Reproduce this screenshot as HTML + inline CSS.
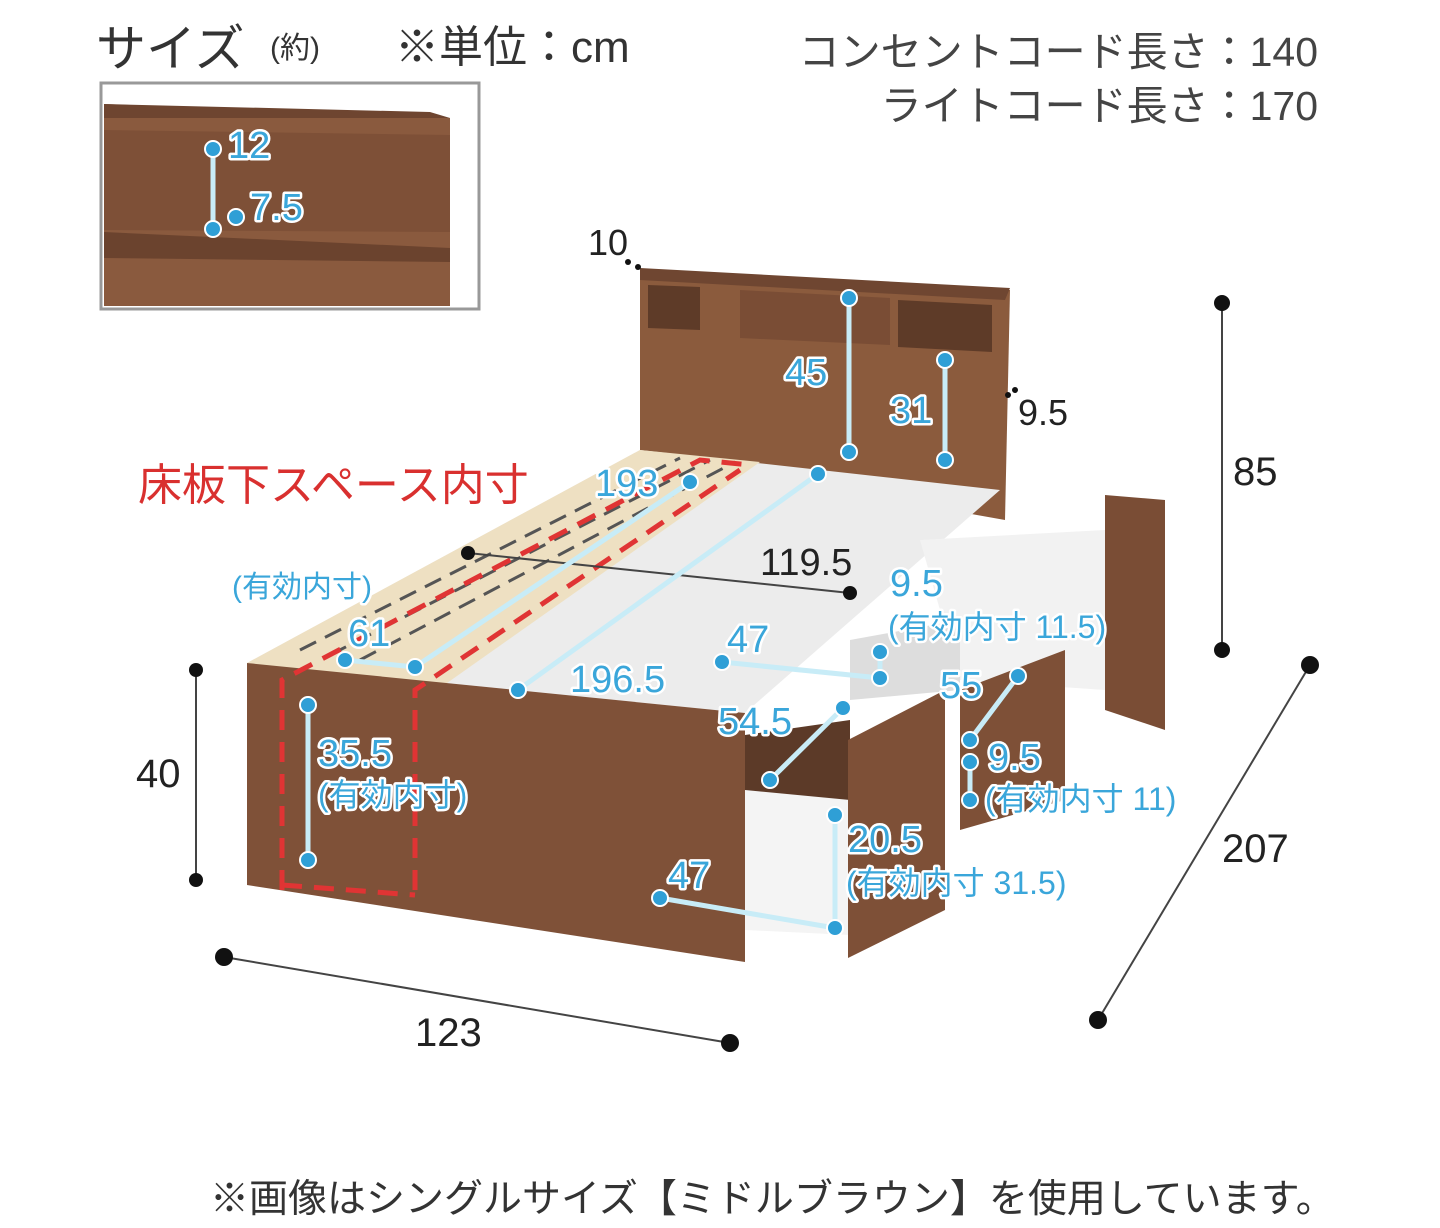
<!DOCTYPE html>
<html><head><meta charset="utf-8"><style>
html,body{margin:0;padding:0;background:#fff}
svg{display:block}
text{font-family:"Liberation Sans","Noto Sans CJK JP",sans-serif}
.b{fill:#3aa6da;stroke:#fff;stroke-width:5;paint-order:stroke;stroke-linejoin:round}
.k{fill:#222}
.bl{stroke:#c8ecf7;stroke-width:5}
.bd{fill:#2f9fd6;stroke:#fff;stroke-width:2}
</style></head><body>
<svg width="1440" height="1228" viewBox="0 0 1440 1228" xmlns="http://www.w3.org/2000/svg">
<text x="96" y="66" font-size="50" fill="#333">サイズ</text>
<text x="270" y="58" font-size="30" fill="#333">(約)</text>
<text x="395" y="62" font-size="44" fill="#333">※単位：cm</text>
<text x="1318" y="66" font-size="41" fill="#444" text-anchor="end">コンセントコード長さ：140</text>
<text x="1318" y="120" font-size="41" fill="#444" text-anchor="end">ライトコード長さ：170</text>

<rect x="101" y="83" width="378" height="226" fill="#fff" stroke="#999" stroke-width="3"/>
<polygon points="104,104 450,118 450,306 104,306" fill="#8a5a3e"/>
<polygon points="104,104 430,112 450,118 104,118" fill="#6e4530"/>
<polygon points="104,130 450,135 450,232 104,230" fill="#7e5037"/>
<polygon points="104,232 450,248 450,262 104,258" fill="#6b432e"/>
<line x1="213" y1="150" x2="213" y2="228" class="bl"/>
<circle cx="213" cy="149" r="8" class="bd"/><circle cx="213" cy="229" r="8" class="bd"/><circle cx="236" cy="217" r="8" class="bd"/>
<text x="228" y="158" font-size="38" class="b">12</text>
<text x="250" y="220" font-size="38" class="b">7.5</text>

<polygon points="640,270 1010,290 1005,520 640,455" fill="#8b5b3d"/>
<polygon points="640,268 1010,288 1005,300 640,280" fill="#6f4631"/>
<polygon points="648,285 700,287 700,330 648,328" fill="#5e3b28"/>
<polygon points="740,290 890,298 890,345 740,338" fill="#7a4d35"/>
<polygon points="898,300 992,305 992,352 898,347" fill="#5e3b28"/>
<polygon points="247,663 640,450 1000,490 745,713" fill="#ececec"/>
<polygon points="247,663 640,450 760,462 440,688" fill="#eee0c2"/>
<g stroke="#555" stroke-width="3" stroke-dasharray="18 10">
<line x1="300" y1="650" x2="680" y2="458"/>
<line x1="330" y1="655" x2="710" y2="460"/>
<line x1="360" y1="660" x2="735" y2="462"/>
</g>
<polygon points="247,663 745,713 745,962 247,885" fill="#7f5138"/>
<g stroke="#e03434" stroke-width="5" fill="none" stroke-dasharray="20 12">
<polyline points="282,890 282,680 700,460 750,465"/>
<polyline points="415,890 415,690 740,470"/>
<polyline points="282,885 415,895"/>
</g>
<text x="138" y="500" font-size="44" fill="#d9302f">床板下スペース内寸</text>

<polygon points="1105,495 1165,500 1165,730 1105,710" fill="#7a4d35"/>
<polygon points="920,540 1105,530 1105,690 960,680" fill="#f2f2f2"/>
<polygon points="745,790 850,800 850,935 745,930" fill="#f4f4f4"/>
<polygon points="745,735 850,720 850,800 745,790" fill="#5c3a28"/>
<polygon points="848,740 945,690 945,910 848,958" fill="#7e5037"/>
<polygon points="960,690 1065,650 1065,800 960,830" fill="#7e5037"/>
<polygon points="850,640 960,620 960,690 850,700" fill="#ddd"/>

<g stroke="#444" stroke-width="2">
<line x1="1222" y1="303" x2="1222" y2="650"/>
<line x1="196" y1="670" x2="196" y2="880"/>
<line x1="224" y1="957" x2="730" y2="1043"/>
<line x1="1310" y1="665" x2="1098" y2="1020"/>
<line x1="468" y1="553" x2="850" y2="593"/>
</g>
<g fill="#111">
<circle cx="1222" cy="303" r="8"/><circle cx="1222" cy="650" r="8"/>
<circle cx="196" cy="670" r="7"/><circle cx="196" cy="880" r="7"/>
<circle cx="224" cy="957" r="9"/><circle cx="730" cy="1043" r="9"/>
<circle cx="1310" cy="665" r="9"/><circle cx="1098" cy="1020" r="9"/>
<circle cx="468" cy="553" r="7"/><circle cx="850" cy="593" r="7"/>
<circle cx="628" cy="262" r="3"/><circle cx="638" cy="267" r="3"/><circle cx="1008" cy="395" r="3"/><circle cx="1015" cy="390" r="3"/>
</g>
<text x="1233" y="485" font-size="40" class="k">85</text>
<text x="136" y="787" font-size="40" class="k">40</text>
<text x="415" y="1046" font-size="40" class="k">123</text>
<text x="1222" y="862" font-size="40" class="k">207</text>
<text x="760" y="575" font-size="38" class="k">119.5</text>
<text x="588" y="255" font-size="36" class="k">10</text>
<text x="1018" y="425" font-size="36" class="k">9.5</text>

<g class="bl">
<line x1="849" y1="298" x2="849" y2="452"/>
<line x1="945" y1="360" x2="945" y2="460"/>
<line x1="308" y1="705" x2="308" y2="860"/>
<line x1="345" y1="660" x2="415" y2="667"/>
<line x1="415" y1="667" x2="690" y2="482"/>
<line x1="518" y1="690" x2="818" y2="474"/>
<line x1="722" y1="662" x2="880" y2="678"/>
<line x1="880" y1="652" x2="880" y2="678"/>
<line x1="770" y1="780" x2="843" y2="708"/>
<line x1="835" y1="815" x2="835" y2="928"/>
<line x1="660" y1="898" x2="835" y2="928"/>
<line x1="970" y1="740" x2="1018" y2="676"/>
<line x1="970" y1="762" x2="970" y2="800"/>
</g>
<g>
<circle cx="849" cy="298" r="8" class="bd"/><circle cx="849" cy="452" r="8" class="bd"/>
<circle cx="945" cy="360" r="8" class="bd"/><circle cx="945" cy="460" r="8" class="bd"/>
<circle cx="308" cy="705" r="8" class="bd"/><circle cx="308" cy="860" r="8" class="bd"/>
<circle cx="345" cy="660" r="8" class="bd"/><circle cx="415" cy="667" r="8" class="bd"/>
<circle cx="690" cy="482" r="8" class="bd"/><circle cx="818" cy="474" r="8" class="bd"/><circle cx="518" cy="690" r="8" class="bd"/>
<circle cx="722" cy="662" r="8" class="bd"/><circle cx="880" cy="652" r="8" class="bd"/><circle cx="880" cy="678" r="8" class="bd"/>
<circle cx="770" cy="780" r="8" class="bd"/><circle cx="843" cy="708" r="8" class="bd"/>
<circle cx="835" cy="815" r="8" class="bd"/><circle cx="835" cy="928" r="8" class="bd"/><circle cx="660" cy="898" r="8" class="bd"/>
<circle cx="970" cy="740" r="8" class="bd"/><circle cx="1018" cy="676" r="8" class="bd"/>
<circle cx="970" cy="762" r="8" class="bd"/><circle cx="970" cy="800" r="8" class="bd"/>
</g>
<g font-size="38">
<text x="785" y="385" class="b">45</text>
<text x="890" y="423" class="b">31</text>
<text x="595" y="496" class="b">193</text>
<text x="232" y="597" font-size="30" class="b">(有効内寸)</text>
<text x="348" y="646" class="b">61</text>
<text x="570" y="692" class="b">196.5</text>
<text x="727" y="652" class="b">47</text>
<text x="890" y="596" class="b">9.5</text>
<text x="888" y="638" font-size="32" class="b">(有効内寸 11.5)</text>
<text x="940" y="698" class="b">55</text>
<text x="718" y="734" class="b">54.5</text>
<text x="318" y="766" class="b">35.5</text>
<text x="318" y="806" font-size="32" class="b">(有効内寸)</text>
<text x="988" y="770" class="b">9.5</text>
<text x="985" y="810" font-size="32" class="b">(有効内寸 11)</text>
<text x="848" y="852" class="b">20.5</text>
<text x="846" y="894" font-size="32" class="b">(有効内寸 31.5)</text>
<text x="668" y="888" class="b">47</text>
</g>

<text x="210" y="1212" font-size="39" fill="#333">※画像はシングルサイズ【ミドルブラウン】を使用しています。</text>
</svg>
</body></html>
